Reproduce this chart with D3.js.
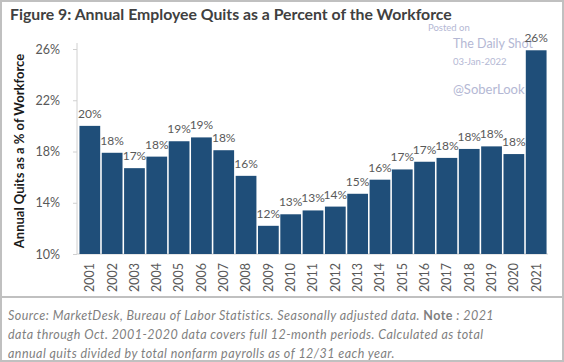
<!DOCTYPE html>
<html>
<head>
<meta charset="utf-8">
<script src="https://cdn.jsdelivr.net/npm/d3@7/dist/d3.min.js"></script>
<style>
  body { margin: 0; background: #fff; }
  svg text { font-family: "Lato", "Open Sans", sans-serif; }
  .axis path, .axis line { stroke: #d0d0d0; }
  .axis text { fill: #595959; font-size: 12.5px; }
</style>
</head>
<body>
<svg id="chart"></svg>
<script>
// data (percent of workforce)
var years = ['2001', '2002', '2003', '2004', '2005', '2006', '2007', '2008', '2009', '2010', '2011',
  '2012', '2013', '2014', '2015', '2016', '2017', '2018', '2019', '2020', '2021'];
var quits = [20.0, 17.9, 16.7, 17.6, 18.8, 19.1, 18.1, 16.1, 12.2, 13.1, 13.4,
  13.7, 14.7, 15.8, 16.6, 17.2, 17.5, 18.2, 18.4, 17.8, 25.9];
var yTicks = [10, 14, 18, 22, 26];

var W = 564, H = 362;
var svg = d3.select('#chart').attr('width', W).attr('height', H);

// frame
svg.append('rect')
  .attr('x', 1).attr('y', 1).attr('width', W - 2).attr('height', H - 2)
  .style('fill', 'none').style('stroke', '#c0c0c0').style('stroke-width', 2);
svg.append('line')
  .attr('x1', 1).attr('x2', W - 1).attr('y1', 297).attr('y2', 297)
  .style('stroke', '#c0c0c0').style('stroke-width', 2);

svg.append('text')
  .attr('x', 10).attr('y', 20)
  .style('font-size', '15.8px').style('font-weight', 'bold').style('fill', '#404040')
  .text('Figure 9: Annual Employee Quits as a Percent of the Workforce');

// watermark
var wm = svg.append('g').style('font-family', '"Liberation Sans", Arial, sans-serif').style('fill', '#b4b8d4');
wm.append('text').attr('x', 428).attr('y', 31).style('font-size', '9.5px').text('Posted on');
wm.append('text').attr('x', 453).attr('y', 48).style('font-size', '12.5px').text('The Daily Shot');
wm.append('text').attr('x', 453).attr('y', 65).style('font-size', '9.5px').text('03-Jan-2022');
wm.append('text').attr('x', 453).attr('y', 94).style('font-size', '13px').text('@SoberLook');

var x = d3.scaleBand().domain(years).range([79, 547]).paddingInner(0.07).paddingOuter(0.02);
var y = d3.scaleLinear().domain([10, 26]).range([254, 49]);

svg.append('g')
  .attr('class', 'axis')
  .attr('transform', 'translate(77,0)')
  .call(d3.axisLeft(y).tickValues(yTicks).tickSize(4).tickPadding(13)
    .tickFormat(function (d) { return d + '%'; }))
  .call(function (g) { g.select('.domain').attr('d', 'M0,43V254'); });

svg.append('g')
  .attr('class', 'axis')
  .attr('transform', 'translate(0,254)')
  .call(d3.axisBottom(x).tickSize(0).tickPadding(0))
  .call(function (g) { g.select('.domain').attr('d', 'M77,0H548'); })
  .selectAll('text')
  .attr('transform', 'rotate(-90)')
  .attr('x', -9).attr('y', 0).attr('dy', '0.35em')
  .style('text-anchor', 'end');

svg.selectAll('.bar')
  .data(quits)
  .enter().append('rect')
  .attr('class', 'bar')
  .attr('x', function (d, i) { return x(years[i]); })
  .attr('width', x.bandwidth())
  .attr('y', function (d) { return y(d); })
  .attr('height', function (d) { return y(10) - y(d); })
  .style('fill', '#1f4e79');

svg.selectAll('.lbl')
  .data(quits)
  .enter().append('text')
  .attr('class', 'lbl')
  .attr('x', function (d, i) { return x(years[i]) + x.bandwidth() / 2; })
  .attr('y', function (d) { return y(d) - 8; })
  .style('text-anchor', 'middle').style('font-size', '12px').style('fill', '#595959')
  .text(function (d) { return Math.round(d) + '%'; });

svg.append('text')
  .attr('transform', 'translate(24,151) rotate(-90)')
  .style('text-anchor', 'middle').style('font-size', '13px').style('font-weight', 'bold').style('fill', '#1a1a1a')
  .text('Annual Quits as a % of Workforce');

// footer
var foot = svg.append('text')
  .style('font-size', '12.5px').style('font-style', 'italic').style('fill', '#7f7f7f')
  .style('letter-spacing', '0.45px');
var l1 = foot.append('tspan').attr('x', 8).attr('y', 320);
l1.append('tspan').text('Source: MarketDesk, Bureau of Labor Statistics. Seasonally adjusted data.  ');
l1.append('tspan').style('font-weight', 'bold').style('font-style', 'normal').text('Note');
l1.append('tspan').text(' : 2021');
foot.append('tspan').attr('x', 8).attr('y', 339)
  .text('data through Oct. 2001-2020 data covers full 12-month periods. Calculated as total');
foot.append('tspan').attr('x', 8).attr('y', 358)
  .text('annual quits divided by total nonfarm payrolls as of 12/31 each year.');
</script>
</body>
</html>
